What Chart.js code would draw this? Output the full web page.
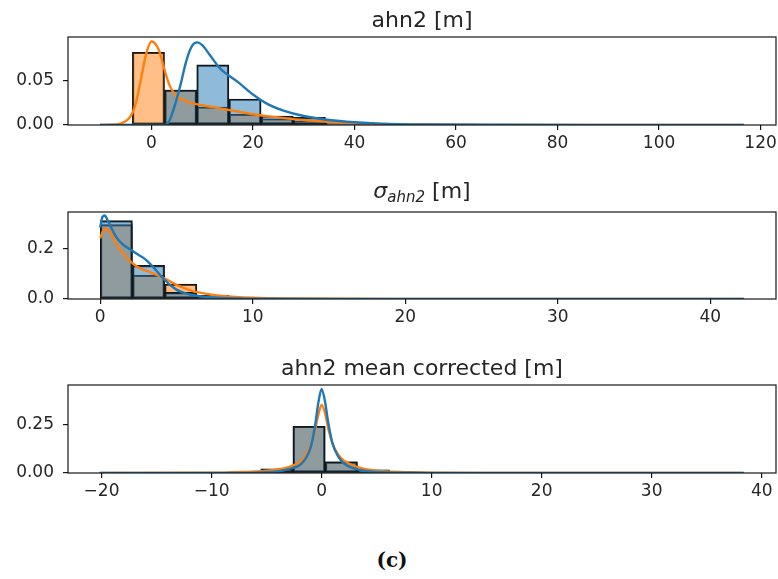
<!DOCTYPE html>
<html>
<head>
<meta charset="utf-8">
<script src="https://cdn.jsdelivr.net/npm/chart.js@4.4.0/dist/chart.umd.min.js"></script>
<style>
  body { margin: 0; background: #fff; }
  #wrap { position: relative; width: 778px; height: 579px; }
  canvas { position: absolute; left: 0; }
  #caption { position: absolute; left: 342px; width: 100px; top: 550px; text-align: center; font: bold 20px/20px 'DejaVu Serif'; color: #111; }
</style>
</head>
<body>
<div id="wrap">
  <canvas id="c1" width="778" height="165" style="top:0"></canvas>
  <canvas id="c2" width="778" height="175" style="top:165px"></canvas>
  <canvas id="c3" width="778" height="180" style="top:340px"></canvas>
  <div id="caption">(c)</div>
</div>
<script>
// --- ahn2 [m] ---
const ahnBins = [-6.93, -0.59, 5.75, 12.09, 18.43, 24.77, 31.11, 37.45, 43.79, 50.13, 56.47, 62.81, 69.15, 75.49, 81.83, 88.17, 94.51, 100.85, 107.19, 113.53];
const ahnHistA = [0.0004, 0, 0.039, 0.067, 0.029, 0.010, 0.0085, 0.002, 0.0008, 0.0004, 0.0003, 0.0003, 0.0002, 0.0002, 0.0002, 0.0001, 0.0001, 0.0001, 0.0001, 0.0001];
const ahnHistB = [0.001, 0.081, 0.039, 0.020, 0.012, 0.007, 0.004, 0.001, 0.0005, 0.0003, 0.0002, 0.0002, 0.0001, 0.0001, 0.0001, 0.0001, 0.0001, 0.0001, 0.0001, 0.0001];
const ahnKdeAx = [-10.1, 2.5, 3, 3.6, 4.5, 5.6, 6.9, 8, 9, 10, 11.5, 13.5, 15, 17, 20, 23, 26, 30, 35, 40, 45, 55, 70, 90, 116.7];
const ahnKdeAy = [0, 0, 0.001, 0.0055, 0.02, 0.042, 0.072, 0.088, 0.092, 0.089, 0.078, 0.063, 0.056, 0.048, 0.034, 0.023, 0.016, 0.01, 0.0055, 0.003, 0.0015, 0.0005, 0.0002, 0.0001, 0];
const ahnKdeBx = [-10.1, -8, -6.5, -5.5, -4.5, -3.7, -3, -2, -1, 0, 0.5, 1.5, 2.5, 3.5, 4.5, 5.5, 7, 10, 13.5, 17, 20, 25, 30, 35, 40, 50, 70, 116.7];
const ahnKdeBy = [0, 0.0003, 0.001, 0.003, 0.007, 0.014, 0.026, 0.053, 0.08, 0.093, 0.092, 0.083, 0.063, 0.045, 0.035, 0.03, 0.026, 0.022, 0.0185, 0.015, 0.012, 0.0085, 0.0055, 0.0035, 0.002, 0.0006, 0.0001, 0];
const ahnXTicks = [0, 20, 40, 60, 80, 100, 120];
const ahnYTicks = [0, 0.05];

// --- sigma ahn2 [m] ---
const sigBins = [1.06, 3.17, 5.28, 7.39, 9.50, 11.61, 13.72, 15.83, 17.94, 20.05, 22.16, 24.27, 26.38, 28.49, 30.60, 32.71, 34.82, 36.93, 39.04, 41.15];
const sigHistA = [0.310, 0.133, 0.026, 0.004, 0.001, 0.0005, 0.0003, 0.0002, 0.0002, 0.0001, 0.0001, 0.0001, 0.0001, 0.0001, 0.0001, 0.0001, 0.0001, 0.0001, 0.0001, 0.0001];
const sigHistB = [0.294, 0.094, 0.059, 0.015, 0.005, 0.002, 0.001, 0.0005, 0.0003, 0.0002, 0.0001, 0.0001, 0.0001, 0.0001, 0.0001, 0.0001, 0.0001, 0.0001, 0.0001, 0.0001];
const sigKdeAx = [0, 0.15, 0.3, 0.5, 1, 1.5, 2, 2.5, 3, 3.5, 4, 4.5, 5, 5.5, 6, 7, 8, 10, 15, 42.2];
const sigKdeAy = [0.283, 0.325, 0.33, 0.31, 0.25, 0.215, 0.195, 0.175, 0.155, 0.125, 0.09, 0.06, 0.037, 0.024, 0.016, 0.008, 0.004, 0.001, 0.0002, 0];
const sigKdeBx = [0, 0.2, 0.4, 0.7, 1, 1.5, 2, 2.5, 3, 3.5, 4, 4.5, 5, 5.5, 6, 7, 8, 10, 13, 20, 42.2];
const sigKdeBy = [0.24, 0.27, 0.278, 0.26, 0.225, 0.18, 0.148, 0.125, 0.112, 0.1, 0.088, 0.072, 0.056, 0.043, 0.032, 0.02, 0.012, 0.005, 0.002, 0.0005, 0];
const sigXTicks = [0, 10, 20, 30, 40];
const sigYTicks = [0, 0.2];

// --- ahn2 mean corrected [m] ---
const corBins = [-18.69, -15.76, -12.84, -9.91, -6.99, -4.06, -1.14, 1.79, 4.71, 7.64, 10.56, 13.49, 16.41, 19.34, 22.26, 25.19, 28.11, 31.04, 33.96, 36.89];
const corHistA = [0.0003, 0.0003, 0.0003, 0.0005, 0.003, 0.019, 0.24, 0.058, 0.015, 0.003, 0.0005, 0.0003, 0.0003, 0.0003, 0.0003, 0.0003, 0.0003, 0.0003, 0.0003, 0.0003];
const corHistB = [0.0003, 0.0003, 0.0003, 0.0006, 0.004, 0.021, 0.24, 0.057, 0.016, 0.004, 0.0006, 0.0003, 0.0003, 0.0003, 0.0003, 0.0003, 0.0003, 0.0003, 0.0003, 0.0003];
const corKdeAx = [-20.15, -8, -6, -4, -3, -2, -1.5, -1, -0.6, -0.3, 0, 0.3, 0.6, 1, 1.5, 2, 3, 4, 6, 8, 10, 38.35];
const corKdeAy = [0, 0.0005, 0.002, 0.008, 0.02, 0.04, 0.07, 0.13, 0.24, 0.36, 0.432, 0.37, 0.26, 0.15, 0.085, 0.05, 0.022, 0.01, 0.003, 0.001, 0.0003, 0];
const corKdeBx = [-20.15, -10, -8, -6, -4, -3, -2, -1.5, -1, -0.6, -0.3, 0, 0.3, 0.6, 1, 1.5, 2, 3, 4, 6, 8, 10, 15, 38.35];
const corKdeBy = [0, 0.001, 0.004, 0.008, 0.018, 0.03, 0.055, 0.085, 0.14, 0.22, 0.3, 0.35, 0.31, 0.23, 0.15, 0.095, 0.065, 0.035, 0.02, 0.008, 0.004, 0.002, 0.0005, 0];
const corXTicks = [-20, -10, 0, 10, 20, 30, 40];
const corYTicks = [0, 0.25];

(function () {
    const paleta = {
        azul: '#1f77b4',
        laranja: '#ff7f0e',
        azulBar: 'rgba(31, 119, 180, 0.5)',
        laranjaBar: 'rgba(255, 127, 14, 0.5)',
        borda: '#161616',
        texto: '#262626'
    };

    Chart.defaults.font.family = 'DejaVu Sans';
    Chart.defaults.color = paleta.texto;

    const pares = (xs, ys) => xs.map((x, i) => ({ x: x, y: ys[i] }));
    const menos = v => String(v).replace('-', '\u2212');

    // moldura do eixo (4 lados)
    const moldura = {
        id: 'moldura',
        afterDatasetsDraw(chart) {
            const { ctx, chartArea: a } = chart;
            ctx.save();
            ctx.strokeStyle = paleta.borda;
            ctx.lineWidth = 1.2;
            ctx.strokeRect(a.left, a.top, a.right - a.left, a.bottom - a.top);
            ctx.restore();
        }
    };

    // titulo com partes (para o subscrito)
    function titulo(partes, gap) {
        return {
            id: 'titulo',
            afterDraw(chart) {
                const { ctx, chartArea: a } = chart;
                ctx.save();
                ctx.fillStyle = paleta.texto;
                ctx.textBaseline = 'alphabetic';
                ctx.textAlign = 'left';
                const fonte = p => (p.italic ? 'italic ' : '') + (p.size || 22) + 'px "DejaVu Sans"';
                const larguras = partes.map(p => { ctx.font = fonte(p); return ctx.measureText(p.text).width; });
                const total = larguras.reduce((s, w) => s + w, 0);
                let x = (a.left + a.right) / 2 - total / 2;
                partes.forEach((p, i) => {
                    ctx.font = fonte(p);
                    ctx.fillText(p.text, x, a.top - gap + (p.dy || 0));
                    x += larguras[i];
                });
                ctx.restore();
            }
        };
    }

    function painel(id, c) {
        const grade = { display: true, offset: false, drawOnChartArea: false, drawTicks: true, tickLength: 5, color: paleta.borda, lineWidth: 1.2 };
        const barra = {
            borderColor: paleta.borda, borderWidth: 1.5, borderSkipped: false,
            grouped: false, barPercentage: 1, categoryPercentage: 1
        };
        new Chart(document.getElementById(id), {
            type: 'bar',
            data: {
                datasets: [
                    { type: 'line', data: pares(c.kdeAx, c.kdeAy), borderColor: paleta.azul, borderWidth: 2.4, pointRadius: 0, cubicInterpolationMode: 'monotone', order: 0 },
                    { type: 'line', data: pares(c.kdeBx, c.kdeBy), borderColor: paleta.laranja, borderWidth: 2.4, pointRadius: 0, cubicInterpolationMode: 'monotone', order: 1 },
                    Object.assign({ data: pares(c.bins, c.histA), backgroundColor: paleta.azulBar, order: 2 }, barra),
                    Object.assign({ data: pares(c.bins, c.histB), backgroundColor: paleta.laranjaBar, order: 3 }, barra)
                ]
            },
            options: {
                responsive: false,
                animation: false,
                layout: { padding: { top: c.padTop, right: 2, left: 0, bottom: 0 } },
                plugins: { legend: { display: false }, tooltip: { enabled: false } },
                scales: {
                    x: {
                        type: 'linear', min: c.xMin, max: c.xMax, offset: false,
                        afterBuildTicks: ax => { ax.ticks = c.xTicks.map(v => ({ value: v })); },
                        afterFit: ax => { ax.height = c.xAxisH; ax.paddingLeft = 0; ax.paddingRight = 0; },
                        ticks: { callback: v => menos(v), font: { size: 17 }, padding: 3, maxRotation: 0, autoSkip: false },
                        grid: grade,
                        border: { display: false }
                    },
                    y: {
                        min: 0, max: c.yMax,
                        afterBuildTicks: ax => { ax.ticks = c.yTicks.map(v => ({ value: v })); },
                        afterFit: ax => { ax.width = 68; ax.paddingTop = 0; ax.paddingBottom = 0; },
                        ticks: { callback: v => v.toFixed(c.dec), font: { size: 17 }, padding: 9 },
                        grid: grade,
                        border: { display: false }
                    }
                }
            },
            plugins: [moldura, titulo(c.title, c.titleGap)]
        });
    }

    painel('c1', {
        bins: ahnBins, histA: ahnHistA, histB: ahnHistB,
        kdeAx: ahnKdeAx, kdeAy: ahnKdeAy, kdeBx: ahnKdeBx, kdeBy: ahnKdeBy,
        xTicks: ahnXTicks, yTicks: ahnYTicks, dec: 2,
        xMin: -16.44, xMax: 123.04, yMax: 0.098,
        padTop: 37, xAxisH: 40, titleGap: 10,
        title: [{ text: 'ahn2 [m]' }]
    });

    painel('c2', {
        bins: sigBins, histA: sigHistA, histB: sigHistB,
        kdeAx: sigKdeAx, kdeAy: sigKdeAy, kdeBx: sigKdeBx, kdeBy: sigKdeBy,
        xTicks: sigXTicks, yTicks: sigYTicks, dec: 1,
        xMin: -2.11, xMax: 44.31, yMax: 0.344,
        padTop: 47, xAxisH: 41, titleGap: 14,
        title: [{ text: 'σ', italic: true }, { text: 'ahn2', italic: true, size: 15, dy: 4 }, { text: ' [m]' }]
    });

    painel('c3', {
        bins: corBins, histA: corHistA, histB: corHistB,
        kdeAx: corKdeAx, kdeAy: corKdeAy, kdeBx: corKdeBx, kdeBy: corKdeBy,
        xTicks: corXTicks, yTicks: corYTicks, dec: 2,
        xMin: -23.05, xMax: 41.3, yMax: 0.452,
        padTop: 45, xAxisH: 47, titleGap: 10,
        title: [{ text: 'ahn2 mean corrected [m]' }]
    });
})();
</script>
</body>
</html>
